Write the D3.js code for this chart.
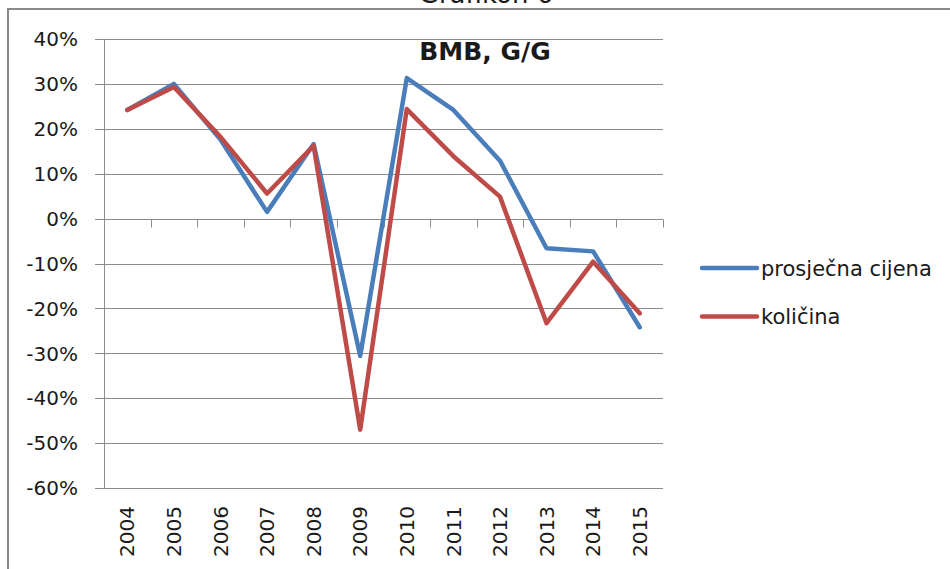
<!DOCTYPE html>
<html>
<head>
<meta charset="utf-8">
<script src="https://cdn.jsdelivr.net/npm/d3@7"></script>
<style>
  body { margin: 0; background: #fff; }
  svg { display: block; }
  text { font-family: 'DejaVu Sans', sans-serif; fill: #1a1a1a; }
</style>
</head>
<body>
<div id="chart"></div>
<script>
let years = ['2004', '2005', '2006', '2007', '2008', '2009', '2010', '2011', '2012', '2013', '2014', '2015']
let cijena = [24.2, 30.0, 17.6, 1.5, 16.6, -30.6, 31.3, 24.2, 12.9, -6.6, -7.3, -24.2]
let kolicina = [24.2, 29.3, 18.2, 5.6, 16.2, -47.0, 24.4, 13.9, 4.9, -23.3, -9.6, -21.1]
let yTicks = [40, 30, 20, 10, 0, -10, -20, -30, -40, -50, -60]
let seriesNames = ['prosječna cijena', 'količina']
let colors = ['#4a7ebb', '#be4b48']

let W = 950
let H = 569
let plot = { left: 104, right: 663, top: 39, bottom: 488 }

let svg = d3.select('#chart').append('svg')
  .attr('width', W)
  .attr('height', H)

// outer frame (only top and left edges are visible)
svg.append('path')
  .attr('d', 'M8,' + H + 'V9H' + W)
  .attr('fill', 'none')
  .attr('stroke', '#8a8a8a')
  .attr('stroke-width', 2)

svg.append('text')
  .attr('x', 486)
  .attr('y', 3)
  .attr('text-anchor', 'middle')
  .style('font-size', '26px')
  .text('Grafikon 6')

let x = d3.scaleBand().domain(years).range([plot.left, plot.right])
let y = d3.scaleLinear().domain([-60, 40]).range([plot.bottom, plot.top])
let cx = (d) => x(d) + x.bandwidth() / 2

// gridlines + y axis ticks
svg.append('g').selectAll('line')
  .data(yTicks)
  .enter().append('line')
  .attr('x1', plot.left - 9)
  .attr('x2', plot.right)
  .attr('y1', (d) => Math.round(y(d)) + 0.5)
  .attr('y2', (d) => Math.round(y(d)) + 0.5)
  .attr('stroke', '#8c8c8c')
  .attr('stroke-width', 1)

svg.append('line')
  .attr('x1', plot.left + 0.5)
  .attr('x2', plot.left + 0.5)
  .attr('y1', plot.top)
  .attr('y2', plot.bottom)
  .attr('stroke', '#8c8c8c')

svg.append('g').selectAll('text')
  .data(yTicks)
  .enter().append('text')
  .attr('x', 78)
  .attr('y', (d) => y(d))
  .attr('dy', '0.36em')
  .attr('text-anchor', 'end')
  .style('font-size', '20px')
  .text((d) => d + '%')

// category ticks on the zero line
let y0 = Math.round(y(0)) + 0.5
svg.append('g').selectAll('line')
  .data(years.slice(1).concat(['end']))
  .enter().append('line')
  .attr('x1', (d) => Math.round(d === 'end' ? plot.right : x(d)) + 0.5)
  .attr('x2', (d) => Math.round(d === 'end' ? plot.right : x(d)) + 0.5)
  .attr('y1', y0)
  .attr('y2', y0 + 8)
  .attr('stroke', '#8c8c8c')

// year labels at the bottom
svg.append('g').selectAll('text')
  .data(years)
  .enter().append('text')
  .attr('transform', (d) => 'translate(' + cx(d) + ',506)rotate(-90)')
  .attr('dy', '0.36em')
  .attr('text-anchor', 'end')
  .style('font-size', '20px')
  .text((d) => d)

// series lines
let line = d3.line()
  .x((d, i) => cx(years[i]))
  .y((d) => y(d))

;[cijena, kolicina].forEach((vals, k) => {
  svg.append('path')
    .datum(vals)
    .attr('d', line)
    .attr('fill', 'none')
    .attr('stroke', colors[k])
    .attr('stroke-width', 4.5)
    .attr('stroke-linejoin', 'round')
    .attr('stroke-linecap', 'round')
})

svg.append('text')
  .attr('x', 485)
  .attr('y', 60)
  .attr('text-anchor', 'middle')
  .style('font-size', '25px')
  .style('font-weight', 'bold')
  .text('BMB, G/G')

// legend
let legend = svg.append('g').selectAll('g')
  .data(seriesNames)
  .enter().append('g')
  .attr('transform', (d, i) => 'translate(702,' + (268 + i * 48.5) + ')')

legend.append('line')
  .attr('x2', 55)
  .attr('stroke', (d, i) => colors[i])
  .attr('stroke-width', 4.5)
  .attr('stroke-linecap', 'round')

legend.append('text')
  .attr('x', 59)
  .attr('dy', '0.36em')
  .style('font-size', '21px')
  .text((d) => d)
</script>
</body>
</html>
